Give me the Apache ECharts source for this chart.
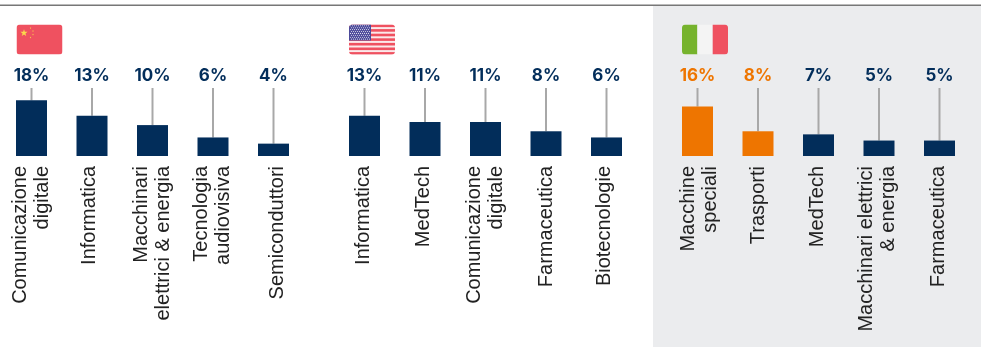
<!DOCTYPE html>
<html>
<head>
<meta charset="utf-8">
<style>html,body{margin:0;padding:0;background:#fff}#c{width:981px;height:347px}</style>
<script src="https://cdn.jsdelivr.net/npm/echarts@6/dist/echarts.min.js"></script>
</head>
<body>
<div id="c"></div>
<script>
// Top five sectors per country
const cnCategories = ['Comunicazione\ndigitale', 'Informatica', 'Macchinari\nelettrici & energia', 'Tecnologia\naudiovisiva', 'Semiconduttori'];
const cnValues = [18, 13, 10, 6, 4];
const usCategories = ['Informatica', 'MedTech', 'Comunicazione\ndigitale', 'Farmaceutica', 'Biotecnologie'];
const usValues = [13, 11, 11, 8, 6];
const itCategories = ['Macchine\nspeciali', 'Trasporti', 'MedTech', 'Macchinari elettrici\n& energia', 'Farmaceutica'];
const itValues = [16, 8, 7, 5, 5];
const itHighlighted = [0, 1];

const NAVY = '#022d5a', ORANGE = '#ee7500', STEM = '#a8a8a8';
const AXIS_MAX = 22;

const svgUri = s => 'data:image/svg+xml;charset=utf-8,' + encodeURIComponent(s);
const flagShell = inner => `<svg xmlns="http://www.w3.org/2000/svg" width="46" height="30" viewBox="0 0 46 30"><defs><clipPath id="r"><rect width="46" height="30" rx="3.5"/></clipPath></defs><g clip-path="url(#r)">${inner}</g></svg>`;

const star = (cx, cy, r, fill) => {
  let pts = [];
  for (let i = 0; i < 10; i++) {
    const a = -Math.PI / 2 + i * Math.PI / 5, q = i % 2 ? r * 0.4 : r;
    pts.push((cx + q * Math.cos(a)).toFixed(2) + ',' + (cy + q * Math.sin(a)).toFixed(2));
  }
  return `<polygon points="${pts.join(' ')}" fill="${fill}"/>`;
};
const cnFlag = flagShell(`<rect width="46" height="30" fill="#ef5160"/>` + star(7.5, 8.5, 3.8, '#fbd84b') +
  star(14, 3.5, 1, '#fbd84b') + star(16.5, 6.5, 1, '#fbd84b') + star(16.5, 10, 1, '#fbd84b') + star(14, 13, 1, '#fbd84b'));
let usInner = `<rect width="46" height="30" fill="#fbe9ea"/>`;
for (let i = 0; i < 7; i++) usInner += `<rect y="${(i * 4.6).toFixed(1)}" width="46" height="2.6" fill="#ef5160"/>`;
usInner += `<rect width="22" height="16" fill="#4c4a9a"/>`;
for (let r = 0; r < 8; r++) for (let k = 0; k < 10; k++) usInner += `<circle cx="${1.5 + k * 2 + (r % 2)}" cy="${1.3 + r * 1.9}" r="0.55" fill="#dcdcec"/>`;
const usFlag = flagShell(usInner);
const itFlag = flagShell(`<rect width="15.4" height="30" fill="#76b32d"/><rect x="15.4" width="15.3" height="30" fill="#f4f4f4"/><rect x="30.7" width="15.3" height="30" fill="#ef5160"/>`);

// nudge: sideways offset of each rotated sector name, in pixels
const panels = [
  { left: 1.25, cats: cnCategories, vals: cnValues, hot: [], nudge: [0, -2.5, 0, -0.5, 3.5] },
  { left: 334.25, cats: usCategories, vals: usValues, hot: [], nudge: [-1, -2, 0, 0, -2] },
  { left: 667.25, cats: itCategories, vals: itValues, hot: itHighlighted, nudge: [1.5, 0, -1, -1.5, -1.5] }
];
const colorOf = (p, i) => p.hot.includes(i) ? ORANGE : NAVY;

const option = {
  animation: false,
  backgroundColor: '#fff',
  graphic: [
    { type: 'rect', silent: true, z: -10, shape: { x: 653, y: 6, width: 328, height: 341 }, style: { fill: '#ebecee' } },
    { type: 'rect', silent: true, z: -9, shape: { x: 0, y: 4.5, width: 981, height: 1.6 }, style: { fill: '#777' } },
    { type: 'image', silent: true, style: { image: svgUri(cnFlag), x: 16.5, y: 24.5, width: 46, height: 30 } },
    { type: 'image', silent: true, style: { image: svgUri(usFlag), x: 349, y: 24.5, width: 46, height: 30 } },
    { type: 'image', silent: true, style: { image: svgUri(itFlag), x: 682, y: 24.5, width: 46, height: 30 } }
  ],
  grid: panels.map(p => ({ left: p.left, top: 88, width: 302.5, height: 68, containLabel: false })),
  xAxis: panels.map((p, i) => ({
    type: 'category', gridIndex: i, data: p.cats,
    axisLine: { show: false }, axisTick: { show: false }, axisLabel: { show: false }
  })),
  yAxis: panels.map((p, i) => ({ type: 'value', gridIndex: i, min: 0, max: AXIS_MAX, show: false })),
  series: panels.flatMap((p, i) => [
    {
      // stem, value label and sector name for each bar
      type: 'custom', xAxisIndex: i, yAxisIndex: i, z: 1, clip: false,
      data: p.vals.map((v, k) => [k, v]),
      renderItem: (params, api) => {
        const k = api.value(0), v = api.value(1);
        const a = api.coord([k, v]), b = api.coord([k, AXIS_MAX]), base = api.coord([k, 0]);
        return {
          type: 'group', children: [
            { type: 'line', shape: { x1: a[0], y1: a[1], x2: b[0], y2: b[1] }, style: { stroke: STEM, lineWidth: 2 } },
            {
              type: 'text', style: {
                text: v + '%', x: b[0], y: b[1] - 12, align: 'center', verticalAlign: 'middle',
                fill: colorOf(p, k), fontFamily: 'Inter, sans-serif', fontWeight: 700, fontSize: 17
              }
            },
            {
              type: 'text', x: base[0] + p.nudge[k], y: base[1] + 10, rotation: Math.PI / 2,
              style: {
                text: p.cats[k], x: 0, y: 0, align: 'right', verticalAlign: 'middle',
                fill: '#222', fontFamily: '"Liberation Sans", Arial, sans-serif', fontSize: 20, lineHeight: 22
              }
            }
          ]
        };
      }
    },
    {
      type: 'bar', xAxisIndex: i, yAxisIndex: i, barWidth: 31, z: 2,
      data: p.vals.map((v, k) => ({ value: v, itemStyle: { color: colorOf(p, k) } }))
    }
  ])
};
echarts.init(document.getElementById('c')).setOption(option);
</script>
</body>
</html>
